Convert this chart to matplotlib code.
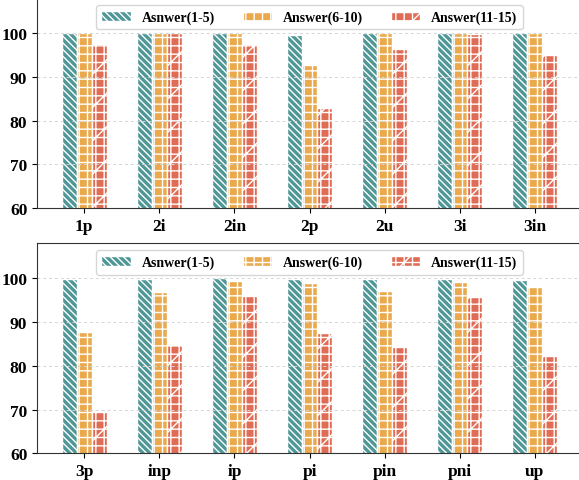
import numpy as np
import matplotlib
matplotlib.use('Agg')
import matplotlib.pyplot as plt

plt.rcParams['font.family'] = ['Liberation Serif', 'DejaVu Serif']
plt.rcParams['font.weight'] = 'bold'
plt.rcParams['hatch.linewidth'] = 1.0

series_names = ['Asnwer(1-5)', 'Answer(6-10)', 'Answer(11-15)']
colors = ['#4f9696', '#e9a94c', '#e06c55']
hatches = ['\\\\\\\\\\', '++', '++/']

top_cats = ['1p', '2i', '2in', '2p', '2u', '3i', '3in']
top_1_5 = [100.0, 100.0, 100.0, 99.6, 100.0, 100.0, 100.0]
top_6_10 = [100.0, 100.0, 100.0, 92.7, 100.0, 100.0, 100.0]
top_11_15 = [97.5, 100.0, 97.5, 82.8, 96.4, 99.8, 95.0]

bot_cats = ['3p', 'inp', 'ip', 'pi', 'pin', 'pni', 'up']
bot_1_5 = [99.8, 99.8, 100.0, 99.8, 99.8, 99.8, 99.5]
bot_6_10 = [87.8, 96.8, 99.3, 98.9, 97.0, 99.2, 98.1]
bot_11_15 = [69.7, 84.8, 95.9, 87.4, 84.2, 95.8, 82.2]


def draw(ax, cats, groups):
    x = np.arange(len(cats))
    w = 0.2
    for i, vals in enumerate(groups):
        ax.bar(x + (i - 1) * w, vals, w, color=colors[i], edgecolor='white',
               hatch=hatches[i], linewidth=1.0, label=series_names[i])
    ax.set_ylim(60, 108)
    ax.set_yticks([60, 70, 80, 90, 100])
    ax.set_xticks(x)
    ax.set_xticklabels(cats)
    ax.tick_params(labelsize=12.5)
    ax.yaxis.grid(True, linestyle=(0, (3, 3)), color='#d5d5d5', linewidth=0.7)
    for s in ax.spines.values():
        s.set_color('#333333')
    ax.legend(loc='upper center', ncol=3, fontsize=10, frameon=True,
              borderaxespad=0.5, columnspacing=2.0, handlelength=2.1)


fig = plt.figure(figsize=(5.79, 4.81), dpi=100)
ax1 = fig.add_axes([0.0639, 0.5649, 0.9413, 0.4376])
ax2 = fig.add_axes([0.0639, 0.0551, 0.9413, 0.4376])

draw(ax1, top_cats, [top_1_5, top_6_10, top_11_15])
draw(ax2, bot_cats, [bot_1_5, bot_6_10, bot_11_15])

fig.savefig('out.png', dpi=100)
